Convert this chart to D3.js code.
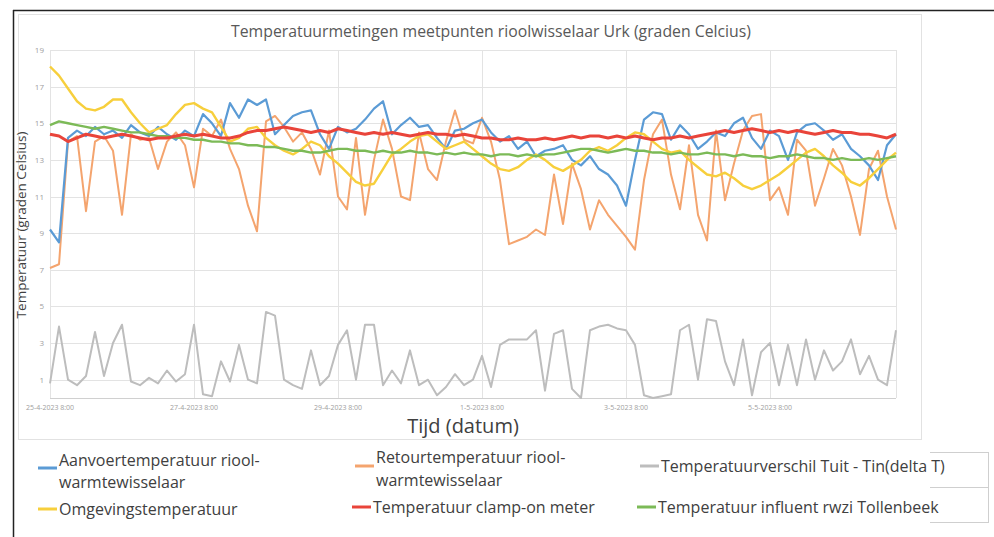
<!DOCTYPE html>
<html lang="nl">
<head>
<meta charset="UTF-8">
<title>Temperatuurmetingen rioolwisselaar Urk</title>
<script src="https://d3js.org/d3.v7.min.js"></script>
<style>
body { margin:0; background:#fff; }
svg { display:block; }
.grid line { stroke:#e3e3e3; stroke-width:1; shape-rendering:crispEdges; }
.ytick { font-family:"Open Sans",sans-serif; font-size:8px; fill:#a0a0a0; text-anchor:end; }
.xtick { font-family:"Open Sans",sans-serif; font-size:7px; fill:#a0a0a0; text-anchor:middle; }
.legend text { font-family:"Open Sans",sans-serif; font-size:16px; fill:#404040; }
</style>
</head>
<body>
<script>
var width = 994, height = 537;

// tijd: elke 3 uur vanaf 25-4-2023 8:00
var startTime = "25-4-2023 8:00";
var stepHours = 3;

var xTickLabels = ["25-4-2023 8:00", "27-4-2023 8:00", "29-4-2023 8:00", "1-5-2023 8:00", "3-5-2023 8:00", "5-5-2023 8:00"];
var yTicks = [1, 3, 5, 7, 9, 11, 13, 15, 17, 19];

var aanvoer = [9.2,8.5,14.2,14.6,14.3,14.8,14.4,14.6,14.2,14.9,14.5,14.3,14.8,14.4,14.1,14.6,14.3,15.5,15.0,14.3,
  16.1,15.3,16.3,16.0,16.3,14.4,14.9,15.4,15.6,15.7,14.4,13.6,14.8,14.5,14.7,15.2,15.8,16.2,14.4,14.9,
  15.3,14.8,14.9,14.2,13.6,14.6,14.7,15.0,15.2,14.5,14.0,14.3,13.6,14.0,13.2,13.5,13.6,13.8,13.0,12.7,
  13.2,12.5,12.2,11.6,10.5,13.0,15.2,15.6,15.5,14.1,14.9,14.4,13.6,14.0,14.5,14.3,15.0,15.3,14.2,13.6,
  14.6,14.3,13.0,14.5,14.9,15.0,14.6,14.1,14.4,13.6,13.2,12.7,11.9,13.8,14.4];

var retour = [7.1,7.3,14.0,14.3,10.2,14.0,14.3,13.5,10.0,14.4,14.1,14.2,12.5,14.0,14.5,13.8,11.5,14.7,14.3,15.2,
  13.6,12.5,10.5,9.1,15.1,15.4,14.8,14.0,14.5,13.6,12.2,14.6,11.0,10.3,14.2,10.0,13.0,15.2,13.6,11.0,
  10.8,14.5,12.5,11.9,14.0,15.7,14.1,13.9,15.3,14.0,11.9,8.4,8.6,8.8,9.2,8.9,12.2,9.5,12.8,11.4,
  9.2,10.8,10.0,9.4,8.8,8.1,11.9,14.4,15.2,12.2,10.3,13.8,10.0,8.6,14.6,10.8,12.8,14.6,15.4,15.5,
  10.8,11.5,10.0,14.1,13.5,10.5,12.0,13.6,12.7,11.0,8.9,12.5,13.5,11.0,9.2];

var deltaT = [0.8,3.9,1.0,0.7,1.2,3.6,1.2,3.0,4.0,0.9,0.7,1.1,0.8,1.5,0.9,1.3,4.0,0.2,0.1,2.0,
  0.9,2.9,1.0,0.8,4.7,4.5,1.0,0.7,0.5,2.6,0.7,1.2,2.9,3.7,1.0,4.0,4.0,0.7,1.5,0.8,
  2.6,0.7,1.0,0.15,0.6,1.3,0.7,1.0,2.3,0.6,2.9,3.2,3.2,3.2,3.7,0.4,3.5,3.7,0.5,0.0,
  3.7,3.9,4.0,3.8,3.7,2.9,0.15,0.0,0.1,0.2,3.7,4.0,1.0,4.3,4.2,2.0,0.7,3.2,0.15,2.5,
  3.0,0.7,2.9,0.7,3.2,1.0,2.6,1.5,2.0,3.2,1.3,2.3,1.0,0.7,3.7];

var omgeving = [18.1,17.6,16.9,16.2,15.8,15.7,15.9,16.3,16.3,15.6,15.0,14.5,14.7,14.9,15.5,16.0,16.1,15.8,15.6,14.8,
  14.0,14.2,14.7,14.8,14.2,13.8,13.5,13.3,13.6,14.0,13.8,13.2,12.8,12.3,11.8,11.6,11.7,12.5,13.3,13.6,
  14.0,14.3,14.4,14.0,13.6,13.8,14.0,13.6,13.2,12.8,12.5,12.4,12.6,13.0,13.3,13.0,12.6,12.4,12.7,13.0,
  13.5,13.7,13.5,13.8,14.2,14.5,14.4,14.0,13.6,13.4,13.5,13.0,12.6,12.2,12.1,12.3,12.0,11.6,11.4,11.6,
  11.9,12.2,12.6,13.0,13.4,13.6,13.2,12.7,12.3,11.8,11.6,12.0,12.5,13.0,13.4];

var clampOn = [14.4,14.3,14.0,14.2,14.4,14.3,14.2,14.3,14.4,14.3,14.2,14.1,14.2,14.2,14.3,14.4,14.3,14.4,14.3,14.2,
  14.2,14.3,14.5,14.6,14.6,14.7,14.8,14.7,14.6,14.5,14.6,14.5,14.7,14.6,14.5,14.4,14.5,14.4,14.5,14.4,
  14.3,14.4,14.5,14.4,14.4,14.3,14.4,14.3,14.2,14.2,14.1,14.1,14.2,14.1,14.1,14.2,14.1,14.2,14.3,14.2,
  14.3,14.3,14.2,14.3,14.2,14.3,14.2,14.1,14.2,14.2,14.3,14.2,14.3,14.4,14.5,14.6,14.5,14.6,14.7,14.6,
  14.5,14.6,14.5,14.6,14.5,14.4,14.5,14.6,14.5,14.5,14.4,14.4,14.3,14.2,14.4];

var influent = [14.9,15.1,15.0,14.9,14.8,14.7,14.8,14.7,14.6,14.5,14.5,14.4,14.3,14.3,14.2,14.2,14.1,14.1,14.0,14.0,
  13.9,13.9,13.8,13.8,13.7,13.7,13.6,13.5,13.5,13.4,13.4,13.5,13.6,13.6,13.5,13.5,13.4,13.5,13.4,13.4,
  13.5,13.4,13.4,13.3,13.4,13.3,13.4,13.3,13.3,13.2,13.3,13.3,13.2,13.3,13.2,13.3,13.3,13.4,13.5,13.6,
  13.6,13.5,13.4,13.5,13.6,13.5,13.5,13.4,13.4,13.3,13.4,13.3,13.3,13.4,13.3,13.3,13.2,13.3,13.2,13.2,
  13.1,13.2,13.2,13.3,13.2,13.1,13.1,13.0,13.1,13.0,13.0,13.1,13.0,13.1,13.2];

var series = [
  {name:["Aanvoertemperatuur riool-","warmtewisselaar"], values:aanvoer, color:"#5b9bd5", w:2.2},
  {name:["Retourtemperatuur riool-","warmtewisselaar"], values:retour, color:"#f4a46e", w:2},
  {name:["Temperatuurverschil Tuit - Tin(delta T)"], values:deltaT, color:"#bdbdbd", w:2},
  {name:["Omgevingstemperatuur"], values:omgeving, color:"#f7cf3c", w:2.4},
  {name:["Temperatuur clamp-on meter"], values:clampOn, color:"#e9443a", w:3},
  {name:["Temperatuur influent rwzi Tollenbeek"], values:influent, color:"#7cba57", w:2.4}
];
// teken volgorde zoals in Excel
var drawOrder = [2, 1, 0, 3, 5, 4];

var parseTime = d3.timeParse("%d-%m-%Y %H:%M");
var t0 = parseTime(startTime);
var times = aanvoer.map(function(d,i){ return d3.timeHour.offset(t0, i*stepHours); });

var svg = d3.select('body').append('svg')
  .attr('width', width).attr('height', height);

// document rand
svg.append('line').attr('x1',13).attr('x2',994).attr('y1',10.5).attr('y2',10.5)
  .attr('stroke','#222').attr('stroke-width',1.5);
svg.append('line').attr('x1',13.5).attr('x2',13.5).attr('y1',10).attr('y2',537)
  .attr('stroke','#222').attr('stroke-width',1.5);

// grafiekgebied rand
svg.append('rect').attr('x',18.5).attr('y',14.5).attr('width',903).attr('height',425)
  .attr('fill','none').attr('stroke','#e2e2e2');
// legenda tabelrand rechts
var rc = svg.append('g').attr('stroke','#cfcfcf').attr('fill','none');
rc.append('line').attr('x1',930).attr('x2',988).attr('y1',452.5).attr('y2',452.5);
rc.append('line').attr('x1',930).attr('x2',988).attr('y1',487.5).attr('y2',487.5);
rc.append('line').attr('x1',930).attr('x2',988).attr('y1',522.5).attr('y2',522.5);
rc.append('line').attr('x1',988.5).attr('x2',988.5).attr('y1',452).attr('y2',523);

var xScale = d3.scaleTime()
  .domain([t0, times[times.length-1]])
  .range([50, 896]);
var yScale = d3.scaleLinear()
  .domain([0, 19])
  .range([398, 50]);

var xTicks = xTickLabels.map(parseTime);

// rasterlijnen
var grid = svg.append('g').attr('class','grid');
grid.selectAll('.hy').data(yTicks).enter().append('line')
  .attr('x1',50).attr('x2',896)
  .attr('y1',function(d){return Math.round(yScale(d))+0.5})
  .attr('y2',function(d){return Math.round(yScale(d))+0.5});
grid.selectAll('.vx').data(xTicks).enter().append('line')
  .attr('x1',function(d){return Math.round(xScale(d))+0.5})
  .attr('x2',function(d){return Math.round(xScale(d))+0.5})
  .attr('y1',yScale(19)).attr('y2',yScale(0));
grid.append('line').attr('x1',896.5).attr('x2',896.5).attr('y1',yScale(19)).attr('y2',yScale(0));

// x-as
svg.append('line').attr('x1',50).attr('x2',896)
  .attr('y1',Math.round(yScale(0))+0.5).attr('y2',Math.round(yScale(0))+0.5)
  .attr('stroke','#d0d0d0');
svg.append('g').selectAll('text').data(xTickLabels).enter().append('text')
  .attr('class','xtick')
  .attr('x',function(d){return xScale(parseTime(d))})
  .attr('y',yScale(0)+12)
  .text(function(d){return d});

// y-as labels
svg.append('g').selectAll('text').data(yTicks).enter().append('text')
  .attr('class','ytick')
  .attr('x',44)
  .attr('y',function(d){return yScale(d)+3})
  .text(function(d){return d});

// lijnen
var line = d3.line()
  .x(function(d,i){return xScale(times[i])})
  .y(function(d){return yScale(d)});

svg.append('g').selectAll('path').data(drawOrder.map(function(k){return series[k]})).enter()
  .append('path')
  .attr('d',function(s){return line(s.values)})
  .attr('fill','none')
  .attr('stroke',function(s){return s.color})
  .attr('stroke-width',function(s){return s.w})
  .attr('stroke-linejoin','round');

// titels
svg.append('text').attr('x',491).attr('y',37).attr('text-anchor','middle')
  .style('font-family','"Open Sans",sans-serif').style('font-size','15.8px').style('fill','#595959')
  .text('Temperatuurmetingen meetpunten rioolwisselaar Urk (graden Celcius)');
svg.append('text')
  .attr('transform','translate(26,225) rotate(-90)').attr('text-anchor','middle')
  .style('font-family','"Open Sans",sans-serif').style('font-size','13.5px').style('fill','#404040')
  .text('Temperatuur (graden Celsius)');
svg.append('text').attr('x',463).attr('y',433).attr('text-anchor','middle')
  .style('font-family','"Open Sans",sans-serif').style('font-size','20px').style('fill','#404040')
  .text('Tijd (datum)');

// legenda
var legendPos = [
  {x:38, y:468, ty:[466,488]},
  {x:355, y:466, ty:[463,486]},
  {x:640, y:466, ty:[472]},
  {x:38, y:509, ty:[515]},
  {x:352, y:507, ty:[513]},
  {x:637, y:507, ty:[513]}
];
var legend = svg.append('g').attr('class','legend');
series.forEach(function(s,k){
  var p = legendPos[k];
  legend.append('line').attr('x1',p.x).attr('x2',p.x+19).attr('y1',p.y).attr('y2',p.y)
    .attr('stroke',s.color).attr('stroke-width',3);
  s.name.forEach(function(t,j){
    legend.append('text').attr('x',p.x+21).attr('y',p.ty[j]).text(t);
  });
});
</script>
</body>
</html>
